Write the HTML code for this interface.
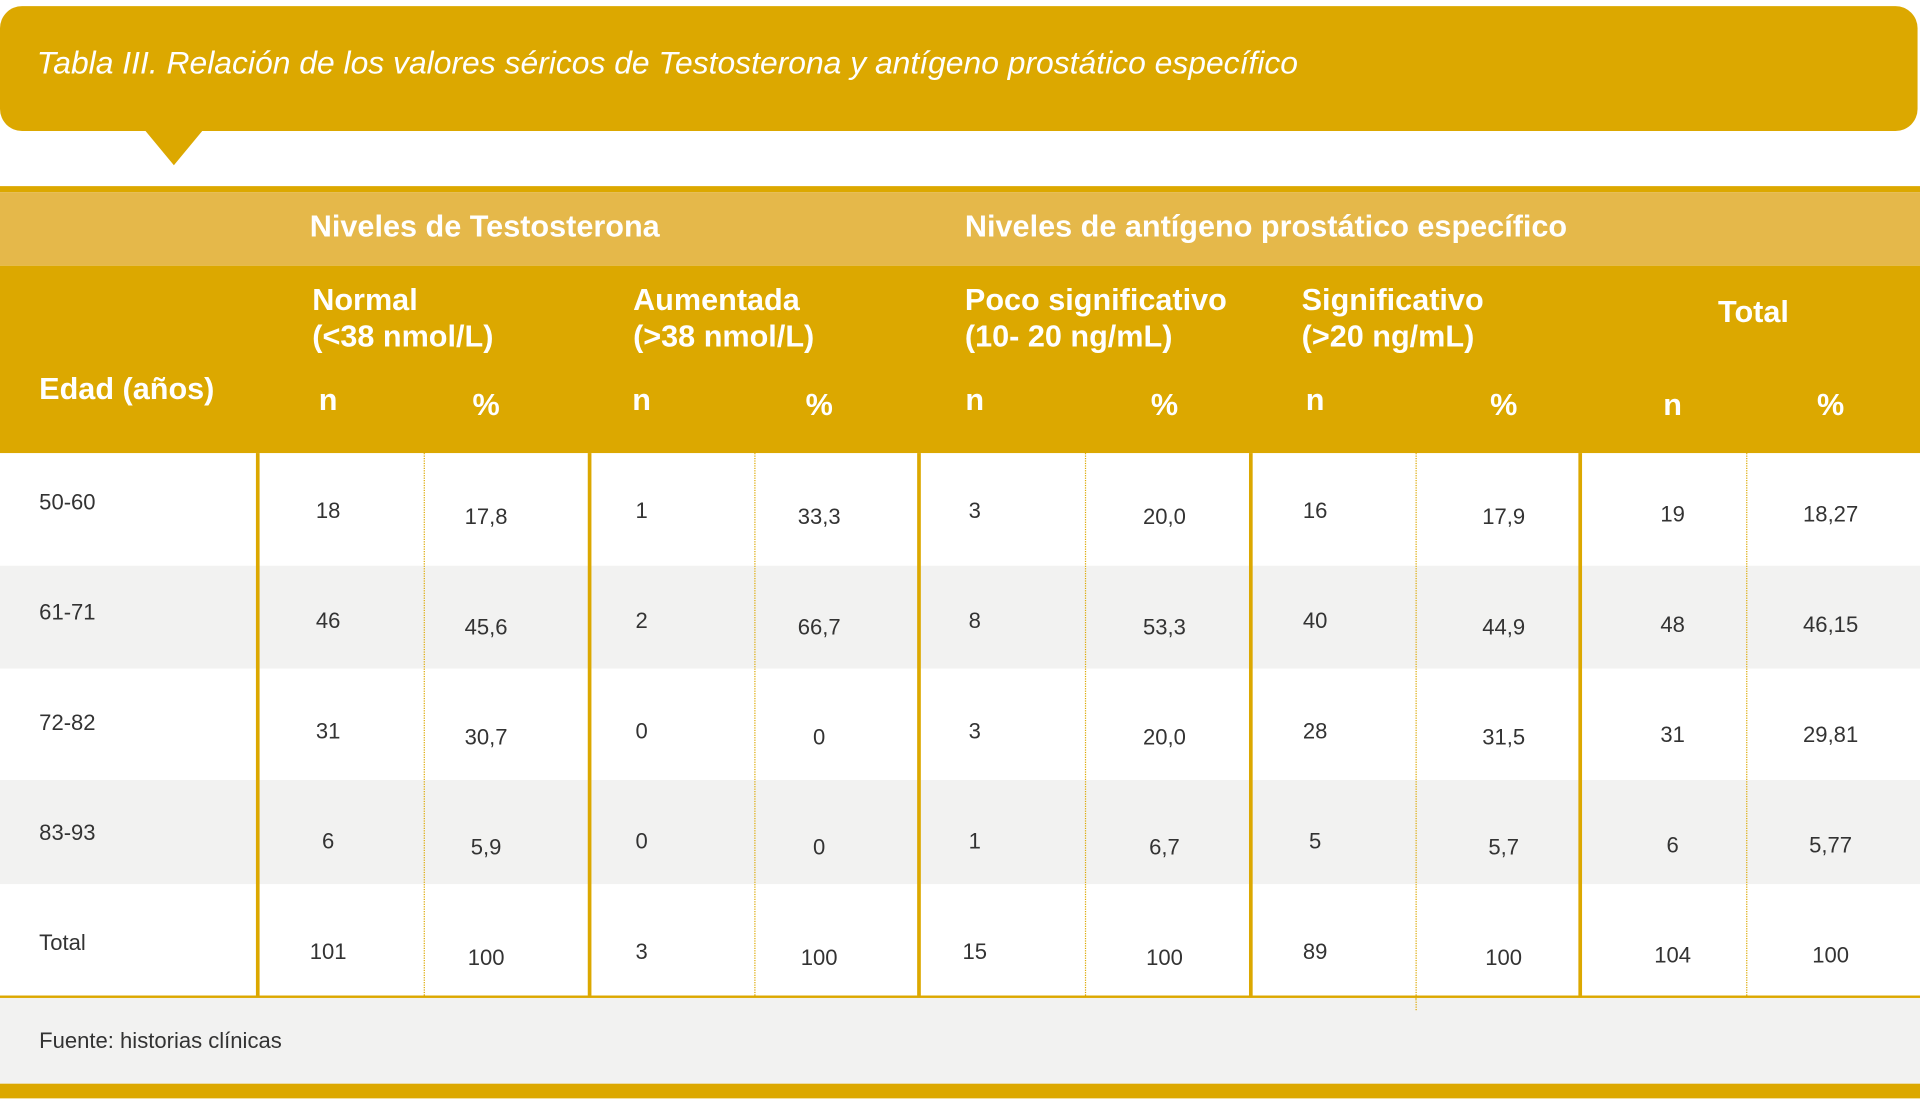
<!DOCTYPE html>
<html><head><meta charset="utf-8"><style>
html,body{margin:0;padding:0;background:#fff;width:1920px;height:1106px;overflow:hidden}
#w{position:absolute;left:0;top:0;width:1568px;height:904px;transform:scale(1.2245);transform-origin:0 0;font-family:"Liberation Sans",sans-serif}
.a{position:absolute;white-space:nowrap}
.h{color:#fff;font-weight:bold;font-size:25px;line-height:30px}
.d{color:#333;font-size:18px;line-height:22px;transform:translateX(-50%)}
.l{color:#333;font-size:18px;line-height:22px}
.v{position:absolute;top:370px;height:443px;width:3px;background:#dca800}
.dt{position:absolute;top:370px;height:443px;width:0;border-left:1.5px dotted #dca800}
</style></head><body><div id="w">
<div class="a" style="left:0;top:5px;width:1566px;height:102px;background:#dca800;border-radius:18px"></div>
<div class="a" style="left:118px;top:106px;width:0;height:0;border-left:24px solid transparent;border-right:24px solid transparent;border-top:29px solid #dca800"></div>
<div class="a" style="left:30px;top:34px;color:#fff;font-style:italic;font-size:26px;line-height:34px">Tabla III. Relación de los valores séricos de Testosterona y antígeno prostático específico</div>

<div class="a" style="left:0;top:152px;width:1568px;height:5px;background:#dca800"></div>
<div class="a" style="left:0;top:157px;width:1568px;height:60px;background:#e5b84a"></div>
<div class="a" style="left:0;top:217px;width:1568px;height:153px;background:#dca800"></div>

<div class="a h" style="left:253px;top:170px">Niveles de Testosterona</div>
<div class="a h" style="left:788px;top:170px">Niveles de antígeno prostático específico</div>
<div class="a h" style="left:255px;top:230px">Normal<br>(&lt;38 nmol/L)</div>
<div class="a h" style="left:517px;top:230px">Aumentada<br>(&gt;38 nmol/L)</div>
<div class="a h" style="left:788px;top:230px">Poco significativo<br>(10- 20 ng/mL)</div>
<div class="a h" style="left:1063px;top:230px">Significativo<br>(&gt;20 ng/mL)</div>
<div class="a h" style="left:1432px;top:240px;transform:translateX(-50%)">Total</div>
<div class="a h" style="left:32px;top:303px">Edad (años)</div>
<div class="a h" style="left:268px;top:312px;transform:translateX(-50%)">n</div>
<div class="a h" style="left:397px;top:316px;transform:translateX(-50%)">%</div>
<div class="a h" style="left:524px;top:312px;transform:translateX(-50%)">n</div>
<div class="a h" style="left:669px;top:316px;transform:translateX(-50%)">%</div>
<div class="a h" style="left:796px;top:312px;transform:translateX(-50%)">n</div>
<div class="a h" style="left:951px;top:316px;transform:translateX(-50%)">%</div>
<div class="a h" style="left:1074px;top:312px;transform:translateX(-50%)">n</div>
<div class="a h" style="left:1228px;top:316px;transform:translateX(-50%)">%</div>
<div class="a h" style="left:1366px;top:316px;transform:translateX(-50%)">n</div>
<div class="a h" style="left:1495px;top:316px;transform:translateX(-50%)">%</div>

<div class="a" style="left:0;top:462px;width:1568px;height:84px;background:#f2f2f1"></div>
<div class="a" style="left:0;top:637px;width:1568px;height:85px;background:#f2f2f1"></div>

<div class="v" style="left:209px"></div><div class="v" style="left:480px"></div><div class="v" style="left:749px"></div><div class="v" style="left:1020px"></div><div class="v" style="left:1289px"></div>
<div class="dt" style="left:346px"></div><div class="dt" style="left:616px"></div><div class="dt" style="left:886px"></div><div class="dt" style="left:1156px;height:455px"></div><div class="dt" style="left:1426px"></div>

<div class="a" style="left:0;top:813px;width:1568px;height:2px;background:#dca800"></div>
<div class="a" style="left:0;top:815px;width:1568px;height:70px;background:#f2f2f1"></div>
<div class="dt" style="left:1156px;top:815px;height:10px"></div>
<div class="a" style="left:0;top:885px;width:1568px;height:12px;background:#dca800"></div>
<div class="a l" style="left:32px;top:839px">Fuente: historias clínicas</div>

<!-- rows -->
<div class="a l" style="left:32px;top:399px">50-60</div>
<div class="a l" style="left:32px;top:489px">61-71</div>
<div class="a l" style="left:32px;top:579px">72-82</div>
<div class="a l" style="left:32px;top:669px">83-93</div>
<div class="a l" style="left:32px;top:759px">Total</div>

<div class="a d" style="left:268px;top:406px">18</div><div class="a d" style="left:397px;top:411px">17,8</div><div class="a d" style="left:524px;top:406px">1</div><div class="a d" style="left:669px;top:411px">33,3</div><div class="a d" style="left:796px;top:406px">3</div><div class="a d" style="left:951px;top:411px">20,0</div><div class="a d" style="left:1074px;top:406px">16</div><div class="a d" style="left:1228px;top:411px">17,9</div><div class="a d" style="left:1366px;top:409px">19</div><div class="a d" style="left:1495px;top:409px">18,27</div>

<div class="a d" style="left:268px;top:496px">46</div><div class="a d" style="left:397px;top:501px">45,6</div><div class="a d" style="left:524px;top:496px">2</div><div class="a d" style="left:669px;top:501px">66,7</div><div class="a d" style="left:796px;top:496px">8</div><div class="a d" style="left:951px;top:501px">53,3</div><div class="a d" style="left:1074px;top:496px">40</div><div class="a d" style="left:1228px;top:501px">44,9</div><div class="a d" style="left:1366px;top:499px">48</div><div class="a d" style="left:1495px;top:499px">46,15</div>

<div class="a d" style="left:268px;top:586px">31</div><div class="a d" style="left:397px;top:591px">30,7</div><div class="a d" style="left:524px;top:586px">0</div><div class="a d" style="left:669px;top:591px">0</div><div class="a d" style="left:796px;top:586px">3</div><div class="a d" style="left:951px;top:591px">20,0</div><div class="a d" style="left:1074px;top:586px">28</div><div class="a d" style="left:1228px;top:591px">31,5</div><div class="a d" style="left:1366px;top:589px">31</div><div class="a d" style="left:1495px;top:589px">29,81</div>

<div class="a d" style="left:268px;top:676px">6</div><div class="a d" style="left:397px;top:681px">5,9</div><div class="a d" style="left:524px;top:676px">0</div><div class="a d" style="left:669px;top:681px">0</div><div class="a d" style="left:796px;top:676px">1</div><div class="a d" style="left:951px;top:681px">6,7</div><div class="a d" style="left:1074px;top:676px">5</div><div class="a d" style="left:1228px;top:681px">5,7</div><div class="a d" style="left:1366px;top:679px">6</div><div class="a d" style="left:1495px;top:679px">5,77</div>

<div class="a d" style="left:268px;top:766px">101</div><div class="a d" style="left:397px;top:771px">100</div><div class="a d" style="left:524px;top:766px">3</div><div class="a d" style="left:669px;top:771px">100</div><div class="a d" style="left:796px;top:766px">15</div><div class="a d" style="left:951px;top:771px">100</div><div class="a d" style="left:1074px;top:766px">89</div><div class="a d" style="left:1228px;top:771px">100</div><div class="a d" style="left:1366px;top:769px">104</div><div class="a d" style="left:1495px;top:769px">100</div>
</div></body></html>
